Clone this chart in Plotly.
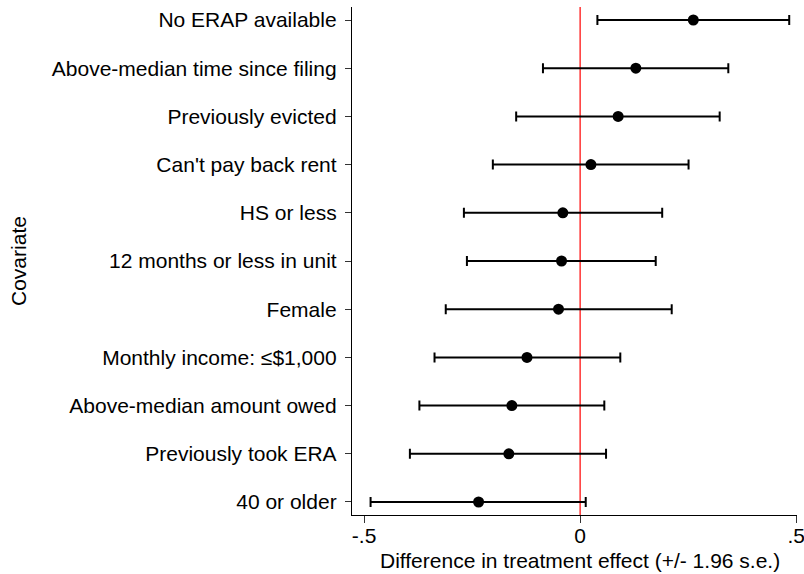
import plotly.graph_objects as go

# Covariates, listed top to bottom
covariates = [
    "No ERAP available",
    "Above-median time since filing",
    "Previously evicted",
    "Can't pay back rent",
    "HS or less",
    "12 months or less in unit",
    "Female",
    "Monthly income: \u2264$1,000",
    "Above-median amount owed",
    "Previously took ERA",
    "40 or older",
]

# Point estimates of the difference in treatment effect
estimate = [0.262, 0.129, 0.088, 0.025, -0.040, -0.043, -0.050, -0.123, -0.158, -0.165, -0.235]
# Lower and upper bounds (+/- 1.96 s.e.)
lower = [0.040, -0.086, -0.148, -0.202, -0.269, -0.262, -0.311, -0.337, -0.372, -0.394, -0.485]
upper = [0.484, 0.343, 0.323, 0.251, 0.190, 0.175, 0.212, 0.093, 0.056, 0.060, 0.013]

x_ticks = [-0.5, 0.0, 0.5]
x_tick_labels = ["-.5", "0", ".5"]

FONT = "Liberation Sans, Arial, Helvetica, sans-serif"
FS = 21

err_plus = [u - e for u, e in zip(upper, estimate)]
err_minus = [e - l for e, l in zip(estimate, lower)]

fig = go.Figure()
fig.add_trace(go.Scatter(
    x=estimate,
    y=covariates,
    mode="markers",
    marker=dict(color="black", size=11, symbol="circle"),
    error_x=dict(
        type="data",
        symmetric=False,
        array=err_plus,
        arrayminus=err_minus,
        color="black",
        thickness=2,
        width=5,
    ),
    showlegend=False,
    hoverinfo="skip",
))

# Reference line at zero
fig.add_shape(
    type="line", xref="x", yref="paper",
    x0=0, x1=0, y0=0, y1=1,
    line=dict(color="#ff0000", width=1.2),
    layer="below",
)

fig.update_layout(
    width=804,
    height=574,
    margin=dict(l=352, r=7, t=7, b=59, autoexpand=False),
    paper_bgcolor="white",
    plot_bgcolor="white",
    font=dict(family=FONT, size=FS, color="black"),
    xaxis=dict(
        range=[-0.528, 0.502],
        tickmode="array",
        tickvals=x_ticks,
        ticktext=x_tick_labels,
        automargin=False,
        showgrid=False,
        zeroline=False,
        showline=True,
        linecolor="black",
        linewidth=1.3,
        ticks="outside",
        ticklen=7,
        tickwidth=1.3,
        tickcolor="#333333",
        ticklabelstandoff=-5,
        ticklabeloverflow="allow",
        tickfont=dict(family=FONT, size=FS, color="black"),
    ),
    yaxis=dict(
        type="category",
        categoryorder="array",
        categoryarray=covariates,
        range=[10.27, -0.27],
        automargin=False,
        showgrid=False,
        zeroline=False,
        showline=True,
        linecolor="black",
        linewidth=1.3,
        ticks="outside",
        ticklen=6,
        tickwidth=1.3,
        tickcolor="#333333",
        ticklabelstandoff=4,
        tickfont=dict(family=FONT, size=FS, color="black"),
    ),
    annotations=[
        dict(
            text="Difference in treatment effect (+/- 1.96 s.e.)",
            xref="paper", yref="paper",
            x=0.512, y=-0.0886,
            xanchor="center", yanchor="middle",
            showarrow=False,
            font=dict(family=FONT, size=FS, color="black"),
        ),
        dict(
            text="Covariate",
            xref="paper", yref="paper",
            x=-0.7506, y=0.5,
            xanchor="center", yanchor="middle",
            textangle=-90,
            showarrow=False,
            font=dict(family=FONT, size=FS, color="black"),
        ),
    ],
)

fig.write_html("out.html")
